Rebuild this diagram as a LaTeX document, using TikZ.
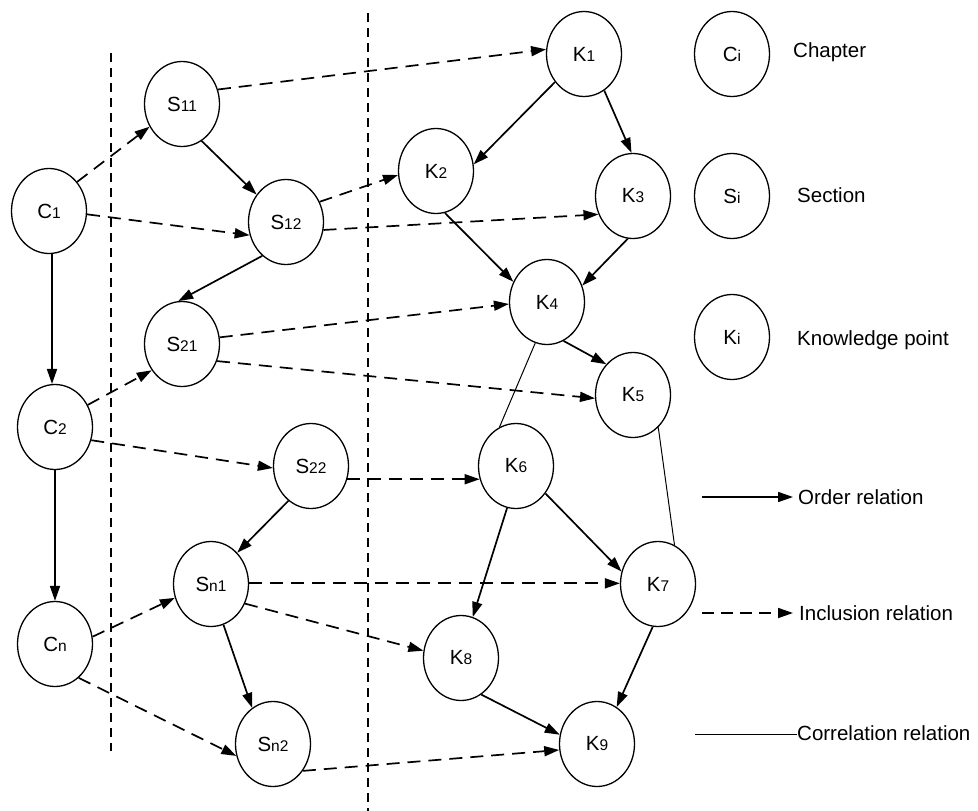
\documentclass[tikz,border=0pt]{standalone}
\usepackage{fontspec}
\setmainfont{Liberation Sans}
\usetikzlibrary{shapes.geometric,arrows.meta}
\newcommand\nlab[2]{{\fontsize{20.5}{22}\selectfont #1}{\fontsize{15.5}{17}\selectfont #2}}
\begin{document}
\begin{tikzpicture}[x=1pt,y=-1pt,
 kn/.style={ellipse,draw,line width=1.3pt,minimum width=75pt,minimum height=85pt,inner sep=0pt},
 ord/.style={line width=1.7pt,-{Triangle[length=15pt,width=10pt]}},
 inc/.style={line width=1.7pt,dash pattern=on 13pt off 8pt,-{Triangle[length=15pt,width=10pt]}},
 cor/.style={line width=1pt},
 sep/.style={line width=1.2pt,dash pattern=on 9pt off 6pt},
 leg/.style={anchor=west,inner sep=0pt,font=\fontsize{20.5}{24}\selectfont}]
\useasboundingbox (0,0) rectangle (978,811);
% separators
\coordinate (v1a) at (111,53); \coordinate (v1b) at (111,751);
\coordinate (v2a) at (368,13); \coordinate (v2b) at (368,811);
\draw[sep] (v1a) -- (v1b);
\draw[sep] (v2a) -- (v2b);
% nodes
\node[kn] (C1) at (49,211) {\nlab{C}{1}};
\node[kn] (C2) at (55,427) {\nlab{C}{2}};
\node[kn] (Cn) at (55,644) {\nlab{C}{n}};
\node[kn] (S11) at (182,104) {\nlab{S}{11}};
\node[kn] (S12) at (286,222) {\nlab{S}{12}};
\node[kn] (S21) at (182,344) {\nlab{S}{21}};
\node[kn] (S22) at (311,466) {\nlab{S}{22}};
\node[kn] (Sn1) at (211,584) {\nlab{S}{n1}};
\node[kn] (Sn2) at (273,744) {\nlab{S}{n2}};
\node[kn] (K1) at (584,54) {\nlab{K}{1}};
\node[kn] (K2) at (436,171) {\nlab{K}{2}};
\node[kn] (K3) at (633,196) {\nlab{K}{3}};
\node[kn] (K4) at (547,302) {\nlab{K}{4}};
\node[kn] (K5) at (633,395) {\nlab{K}{5}};
\node[kn] (K6) at (516,466) {\nlab{K}{6}};
\node[kn] (K7) at (658,584) {\nlab{K}{7}};
\node[kn] (K8) at (461,658) {\nlab{K}{8}};
\node[kn] (K9) at (597,744) {\nlab{K}{9}};
% legend nodes
\node[kn] (LC) at (732,54) {\nlab{C}{i}};
\node[kn] (LS) at (732,196) {\nlab{S}{i}};
\node[kn] (LK) at (732,337) {\nlab{K}{i}};
\node[leg] (tC) at (793,52) {Chapter};
\node[leg] (tS) at (797,195) {Section};
\node[leg] (tK) at (797,340) {Knowledge point};
% order relations
\draw[ord] (S11.298) -- (S12.137);
\draw[ord] (S12.235.6) -- (S21.95.4);
\draw[ord] (C1.274) -- (C2.94);
\draw[ord] (C2.270) -- (Cn.90);
\draw[ord] (S22.237.4) -- (Sn1.50);
\draw[ord] (Sn1.287.6) -- (Sn2.120.5);
\draw[ord] (K1.224) -- (K2.10);
\draw[ord] (K1.299) -- (K3.92.7);
\draw[ord] (K2.282) -- (K4.149.5);
\draw[ord] (K3.263) -- (K4.25.9);
\draw[ord] (K4.293.6) -- (K5.131);
\draw[ord] (K6.317) -- (K7.161.6);
\draw[ord] (K6.258) -- (K8.74.6);
\draw[ord] (K7.263.4) -- (K9.62.8);
\draw[ord] (K8.299.6) -- (K9.166);
% inclusion relations
\draw[inc] (C1.46) -- (S11.215);
\draw[inc] (C1.355) -- (S12.200);
\draw[inc] (C2.34.4) -- (S21.221);
\draw[inc] (C2.340.6) -- (S22.183);
\draw[inc] (Cn.11.9) -- (Sn1.201);
\draw[inc] (Cn.305) -- (Sn2.198.4);
\draw[inc] (S11.22.6) -- (K1.173.8);
\draw[inc] (S12.31.7) -- (K2.186);
\draw[inc] (S12.348) -- (K3.208.5);
\draw[inc] (S21.10.4) -- (K4.183);
\draw[inc] (S21.334) -- (K5.185);
\draw[inc] (S22.340) -- (K6.200);
\draw[inc] (Sn1.1) -- (K7.179);
\draw[inc] (Sn1.330) -- (K8.169.6);
\draw[inc] (Sn2.318) -- (K9.189);
% correlation relations
\draw[cor] (K4.254) -- (K6.113.5);
\draw[cor] (K5.308) -- (K7.67.7);
% legend lines
\coordinate (o1) at (702,497); \coordinate (o2) at (793,497);
\coordinate (i1) at (702,613); \coordinate (i2) at (793,613);
\coordinate (c1) at (695,734); \coordinate (c2) at (797,734);
\draw[ord] (o1) -- (o2);
\draw[inc,dash pattern=on 12pt off 7pt] (i1) -- (i2);
\draw[cor] (c1) -- (c2);
\node[leg] (tO) at (798,497) {Order relation};
\node[leg] (tI) at (799,613) {Inclusion relation};
\node[leg] (tR) at (797,733) {Correlation relation};
\end{tikzpicture}
\end{document}
